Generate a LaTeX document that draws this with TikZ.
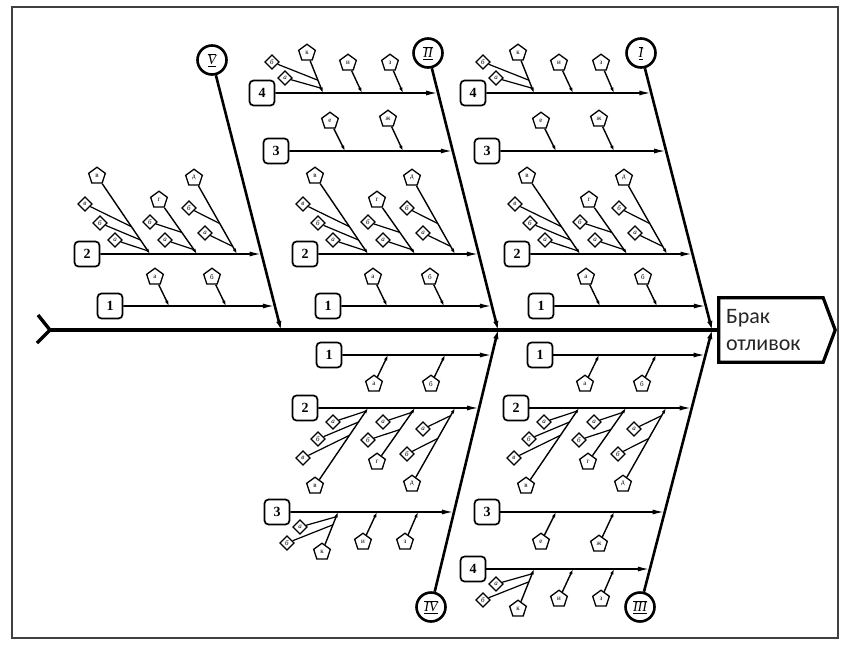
\documentclass[tikz,border=0pt]{standalone}
\usepackage{fontspec}
\setmainfont{Liberation Serif}
\newfontfamily\headfont{Carlito}
\usetikzlibrary{arrows.meta,shapes.geometric,calc}

\tikzset{
 frame/.style={draw=black!75, line width=1.4pt},
 pent/.style={regular polygon, regular polygon sides=5, draw, line width=1.3pt, minimum size=17.5pt, inner sep=0pt, font=\fontsize{7}{7}\selectfont},
 diam/.style={diamond, draw, line width=1.2pt, minimum width=14.5pt, minimum height=14.5pt, inner sep=0pt, font=\itshape\fontsize{7}{7}\selectfont},
 numbox/.style={draw, rounded corners=4pt, line width=1.7pt, minimum size=25pt, inner sep=0pt, font=\bfseries\fontsize{14}{14}\selectfont},
 rcirc/.style={circle, draw, line width=2.6pt, minimum size=29pt, inner sep=0pt, font=\fontsize{14}{14}\selectfont},
 cause/.style={line width=1.4pt, -{Latex[length=5.5pt,width=3.5pt]}},
 dline/.style={line width=1.2pt},
 subarrow/.style={line width=1.7pt, -{Latex[length=12pt,width=5pt]}},
 bone/.style={line width=2.6pt, -{Latex[length=9pt,width=5.5pt]}},
 spine/.style={line width=4.2pt},
 tailst/.style={line width=3.4pt, line join=miter},
 headst/.style={line width=3.2pt, line join=miter},
}

\newcommand\rnum[1]{$\overline{\underline{\mathit{#1}}}$}

\newcommand\causeone[1]{%
  \node[pent] (#1pa) at (45,-29) {а};
  \node[pent] (#1pb) at (102,-29) {б};
  \coordinate (#1qa) at (59,0);
  \coordinate (#1qb) at (116,0);
  \draw[cause] (#1pa) -- (#1qa);
  \draw[cause] (#1pb) -- (#1qb);
}

\newcommand\causetwo[1]{%
  \node[pent] (#1pv) at (10,-78) {в};
  \coordinate (#1qv) at (63,0);
  \draw[cause] (#1pv) -- (#1qv);
  \node[diam] (#1dva) at (-2,-50) {в};
  \node[diam] (#1dvb) at (13,-31) {б};
  \node[diam] (#1dvc) at (28,-14) {а};
  \draw[dline] (#1dva) -- ($(#1pv)!0.65!(#1qv)$);
  \draw[dline] (#1dvb) -- ($(#1pv)!0.82!(#1qv)$);
  \draw[dline] (#1dvc) -- ($(#1pv)!0.96!(#1qv)$);
  \node[pent] (#1pg) at (72,-54) {г};
  \coordinate (#1qg) at (110,0);
  \draw[cause] (#1pg) -- (#1qg);
  \node[diam] (#1dga) at (63,-32) {б};
  \node[diam] (#1dgb) at (78,-14) {а};
  \draw[dline] (#1dga) -- ($(#1pg)!0.6!(#1qg)$);
  \draw[dline] (#1dgb) -- ($(#1pg)!0.92!(#1qg)$);
  \node[pent] (#1pd) at (107,-76) {д};
  \coordinate (#1qd) at (150,0);
  \draw[cause] (#1pd) -- (#1qd);
  \node[diam] (#1dda) at (102,-46) {б};
  \node[diam] (#1ddb) at (118,-21) {а};
  \draw[dline] (#1dda) -- ($(#1pd)!0.6!(#1qd)$);
  \draw[dline] (#1ddb) -- ($(#1pd)!0.9!(#1qd)$);
}

\newcommand\causethree[1]{%
  \node[pent] (#1pe) at (54,-30) {е};
  \node[pent] (#1pj) at (112,-32) {ж};
  \coordinate (#1qe) at (69,0);
  \coordinate (#1qj) at (127,0);
  \draw[cause] (#1pe) -- (#1qe);
  \draw[cause] (#1pj) -- (#1qj);
}

\newcommand\causefour[1]{%
  \node[pent] (#1pk) at (45,-40) {к};
  \coordinate (#1qk) at (61,0);
  \draw[cause] (#1pk) -- (#1qk);
  \node[diam] (#1dka) at (10,-31) {б};
  \node[diam] (#1dkb) at (23,-15) {а};
  \draw[dline] (#1dka) -- ($(#1pk)!0.68!(#1qk)$);
  \draw[dline] (#1dkb) -- ($(#1pk)!0.88!(#1qk)$);
  \node[pent] (#1pi) at (86,-30) {и};
  \node[pent] (#1pz) at (128,-30) {з};
  \coordinate (#1qi) at (100,0);
  \coordinate (#1qz) at (141,0);
  \draw[cause] (#1pi) -- (#1qi);
  \draw[cause] (#1pz) -- (#1qz);
}

% #1 name, #2 x, #3 y, #4 number, #5 cause macro, #6 flip, #7 bone
\newcommand\subbone[7]{%
  \begin{scope}[shift={(#2,#3)},yscale=#6]
    \node[numbox] (#1) at (0,0) {#4};
    \coordinate (#1r) at (250,0);
    #5{#1}
  \end{scope}
  \coordinate (#1e) at (intersection of #1--#1r and #7);
  \draw[subarrow] (#1) -- (#1e);
}

\begin{document}
\begin{tikzpicture}[x=1pt,y=-1pt]
\useasboundingbox (0,0) rectangle (853,650);
\fill[white] (0,0) rectangle (853,650);
\draw[frame] (12,7) rectangle (838,638);

% head
\node[minimum width=116pt, minimum height=64pt, text width=102pt, inner xsep=7pt, inner ysep=0pt, align=left,
      font=\headfont\fontsize{22}{27}\selectfont, text=black!85] (head) at (777,330) {Брак\\отливок};
\draw[headst] (head.north west) -- ($(head.north east)+(-12,0)$) -- (head.east)
   -- ($(head.south east)+(-12,0)$) -- (head.south west) -- cycle;

% spine and tail
\coordinate (tailU) at (38,315);
\coordinate (tailM) at (50,330);
\coordinate (tailL) at (37,343);
\draw[tailst] (tailU) -- (tailM) -- (tailL);
\draw[spine] (tailM) -- (head.west);

% main bones
\node[rcirc] (cV) at (212,60) {\rnum{V}};
\coordinate (sV) at (281,330);
\node[rcirc] (cII) at (428,53) {\rnum{II}};
\coordinate (sII) at (498,330);
\node[rcirc] (cI) at (641,53) {\rnum{I}};
\coordinate (sI) at (712,330);
\node[rcirc] (cIV) at (431,607) {\rnum{IV}};
\coordinate (sIV) at (498,330);
\node[rcirc] (cIII) at (640,607) {\rnum{III}};
\coordinate (sIII) at (712,330);
\draw[bone] (cV) -- (sV);
\draw[bone] (cII) -- (sII);
\draw[bone] (cI) -- (sI);
\draw[bone] (cIV) -- (sIV);
\draw[bone] (cIII) -- (sIII);

% sub-bones
\subbone{Va}{87}{254}{2}{\causetwo}{1}{cV--sV}
\subbone{Vb}{110}{306}{1}{\causeone}{1}{cV--sV}
\subbone{IId}{262}{93}{4}{\causefour}{1}{cII--sII}
\subbone{IIc}{276}{151}{3}{\causethree}{1}{cII--sII}
\subbone{IIb}{305}{254}{2}{\causetwo}{1}{cII--sII}
\subbone{IIa}{328}{306}{1}{\causeone}{1}{cII--sII}
\subbone{Id}{473}{93}{4}{\causefour}{1}{cI--sI}
\subbone{Ic}{487}{151}{3}{\causethree}{1}{cI--sI}
\subbone{Ib}{517}{254}{2}{\causetwo}{1}{cI--sI}
\subbone{Ia}{541}{306}{1}{\causeone}{1}{cI--sI}
\subbone{IVa}{329}{355}{1}{\causeone}{-1}{cIV--sIV}
\subbone{IVb}{305}{408}{2}{\causetwo}{-1}{cIV--sIV}
\subbone{IVc}{277}{512}{3}{\causefour}{-1}{cIV--sIV}
\subbone{IIIa}{540}{355}{1}{\causeone}{-1}{cIII--sIII}
\subbone{IIIb}{516}{408}{2}{\causetwo}{-1}{cIII--sIII}
\subbone{IIIc}{487}{512}{3}{\causethree}{-1}{cIII--sIII}
\subbone{IIId}{473}{569}{4}{\causefour}{-1}{cIII--sIII}
\end{tikzpicture}
\end{document}
